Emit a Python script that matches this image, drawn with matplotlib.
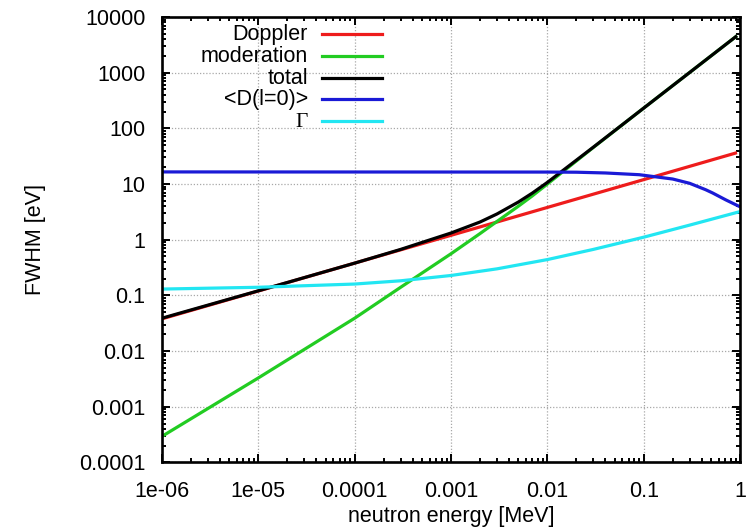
import numpy as np
import matplotlib.pyplot as plt
from matplotlib.lines import Line2D
from matplotlib.ticker import FixedLocator, FixedFormatter, LogLocator, NullFormatter

# values (energy in MeV, width in eV)
e_dop = [1e-6, 1e-5, 1e-4, 1e-3, 1e-2, 1e-1, 0.93]
doppler = [0.038, 0.12, 0.38, 1.2, 3.8, 12.0, 36.6]

e_mod = [1e-6, 1e-5, 1e-4, 3e-4, 1e-3, 2e-3, 3e-3, 5e-3, 7e-3, 1e-2, 3e-2, 1e-1, 3e-1, 0.93]
moderation = [2.95e-4, 3.3e-3, 0.039, 0.14, 0.56, 1.29, 2.13, 4.0, 6.15, 10.0, 45.4, 231, 1008, 4600]
total = [0.039, 0.121, 0.38, 0.67, 1.32, 2.08, 2.9, 4.75, 6.9, 10.7, 45.9, 231, 1008, 4600]

e_lev = [1e-6, 1e-2, 2e-2, 4e-2, 9e-2, 0.2, 0.3, 0.44, 0.52, 0.71, 1.0]
level_spacing = [16.5, 16.4, 16.3, 15.8, 14.7, 12.3, 10.3, 7.9, 6.9, 5.2, 3.9]

e_gam = [1e-6, 1e-5, 1e-4, 3e-4, 1e-3, 3e-3, 1e-2, 3e-2, 0.1, 0.3, 1.0]
gamma = [0.130, 0.140, 0.160, 0.183, 0.228, 0.30, 0.44, 0.67, 1.11, 1.83, 3.2]

xticks = [1e-6, 1e-5, 1e-4, 1e-3, 1e-2, 1e-1, 1]
xlabels = ['1e-06', '1e-05', '0.0001', '0.001', '0.01', '0.1', '1']
yticks = [1e-4, 1e-3, 1e-2, 1e-1, 1, 10, 100, 1000, 10000]
ylabels = ['0.0001', '0.001', '0.01', '0.1', '1', '10', '100', '1000', '10000']

plt.rcParams['font.family'] = ['Liberation Sans', 'DejaVu Sans']
fs = 15.5

fig = plt.figure(figsize=(7.55, 5.3), dpi=100)
ax = fig.add_axes([0.2146, 0.1274, 0.7656, 0.8406])

lw = 2.3
series = [
    (e_dop, doppler, '#ee1c1c', 'Doppler'),
    (e_mod, moderation, '#22cc22', 'moderation'),
    (e_mod, total, '#000000', 'total'),
    (e_lev, level_spacing, '#1a1ad6', '<D(l=0)>'),
    (e_gam, gamma, '#22e6f2', 'Γ'),
]
for x, y, c, lab in series:
    ax.plot(x, y, color=c, lw=lw, solid_capstyle='butt')

ax.set_xscale('log')
ax.set_yscale('log')
ax.set_xlim(1e-6, 1)
ax.set_ylim(1e-4, 1e4)

ax.xaxis.set_major_locator(FixedLocator(xticks))
ax.xaxis.set_major_formatter(FixedFormatter(xlabels))
ax.yaxis.set_major_locator(FixedLocator(yticks))
ax.yaxis.set_major_formatter(FixedFormatter(ylabels))
for a in (ax.xaxis, ax.yaxis):
    a.set_minor_locator(LogLocator(base=10, subs=np.arange(2, 10), numticks=20))
    a.set_minor_formatter(NullFormatter())

ax.tick_params(which='both', direction='in', top=True, right=True, width=1.4)
ax.tick_params(which='major', length=6)
ax.tick_params(which='minor', length=3)
ax.tick_params(axis='x', which='major', labelsize=fs, pad=13)
ax.tick_params(axis='y', which='major', labelsize=fs, pad=12)

ax.grid(True, which='major', color='#a8a8a8', linestyle=(0, (1, 1.5)), linewidth=0.9)
for s in ax.spines.values():
    s.set_linewidth(1.9)

ax.set_xlabel('neutron energy [MeV]', fontsize=fs, labelpad=3)
ax.set_ylabel('FWHM [eV]', fontsize=fs, labelpad=24)

# gnuplot-style key: right aligned text, sample line after it
rows = [0.9618, 0.9125, 0.8631, 0.8159, 0.7666]
for (x, y, c, lab), ry in zip(series, rows):
    fam = ['Liberation Serif'] if lab == 'Γ' else None
    ax.text(0.2526, ry - 0.0135, lab, transform=ax.transAxes, ha='right',
            va='baseline', fontsize=fs, family=fam)
    ax.add_line(Line2D([0.2768, 0.3806], [ry, ry], transform=ax.transAxes,
                       color=c, lw=lw))

fig.savefig('out.png', dpi=100)
